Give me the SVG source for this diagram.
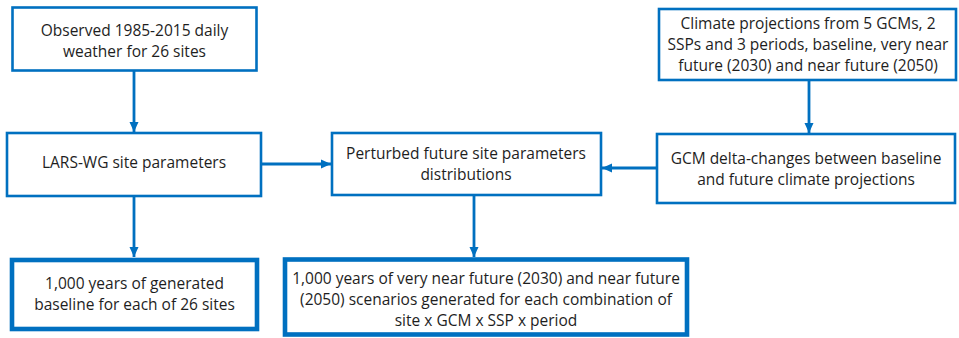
<svg xmlns="http://www.w3.org/2000/svg" width="959" height="338" viewBox="0 0 959 338">
  <defs>
    <marker id="arrow" markerUnits="userSpaceOnUse" markerWidth="10" markerHeight="10" viewBox="0 0 10 10" refX="10" refY="5" orient="auto">
      <path d="M0,0.5 L10,5 L0,9.5 Z" fill="#0070C0"/>
    </marker>
    <style>
      .box { fill: #ffffff; stroke: #0070C0; stroke-width: 2.6; }
      .box.thick { stroke-width: 4.6; }
      .lbl { font-family: "Open Sans", "Liberation Sans", Arial, sans-serif; font-size: 15.5px; fill: #1e1e1e; text-anchor: middle; }
      .link { fill: none; stroke: #0070C0; stroke-width: 2.8; marker-end: url(#arrow); }
    </style>
  </defs>
  <rect width="959" height="338" fill="#ffffff"/>

  <!-- connectors -->
  <g id="connectors">
    <line class="link" x1="134" y1="71" x2="134" y2="132"/>
    <line class="link" x1="809" y1="80" x2="809" y2="133"/>
    <line class="link" x1="261" y1="164" x2="331" y2="164"/>
    <line class="link" x1="657" y1="168" x2="602" y2="168"/>
    <line class="link" x1="134" y1="196" x2="134" y2="257"/>
    <line class="link" x1="474" y1="195" x2="474" y2="257"/>
  </g>

  <g id="observed">
    <rect class="box" x="12.5" y="7.5" width="244" height="63"/>
    <text class="lbl" x="134.5" y="36">Observed 1985-2015 daily</text>
    <text class="lbl" x="134.5" y="57">weather for 26 sites</text>
  </g>

  <g id="climate-projections">
    <rect class="box" x="659" y="9" width="297" height="71"/>
    <text class="lbl" x="808" y="29">Climate projections from 5 GCMs, 2</text>
    <text class="lbl" x="808" y="50">SSPs and 3 periods, baseline, very near</text>
    <text class="lbl" x="808" y="71">future (2030) and near future (2050)</text>
  </g>

  <g id="lars-wg">
    <rect class="box" x="7" y="133" width="254" height="63"/>
    <text class="lbl" x="134" y="168">LARS-WG site parameters</text>
  </g>

  <g id="perturbed">
    <rect class="box" x="332" y="133" width="269" height="62"/>
    <text class="lbl" x="466" y="159">Perturbed future site parameters</text>
    <text class="lbl" x="466" y="180">distributions</text>
  </g>

  <g id="gcm-delta">
    <rect class="box" x="657" y="134" width="298" height="69"/>
    <text class="lbl" x="806" y="164">GCM delta-changes between baseline</text>
    <text class="lbl" x="806" y="185">and future climate projections</text>
  </g>

  <g id="baseline-output">
    <rect class="box thick" x="12" y="260" width="245" height="69"/>
    <text class="lbl" x="134.5" y="289">1,000 years of generated</text>
    <text class="lbl" x="134.5" y="310">baseline for each of 26 sites</text>
  </g>

  <g id="future-output">
    <rect class="box thick" x="285" y="259.5" width="402" height="75"/>
    <text class="lbl" x="486" y="284">1,000 years of very near future (2030) and near future</text>
    <text class="lbl" x="486" y="305">(2050) scenarios generated for each combination of</text>
    <text class="lbl" x="486" y="326">site x GCM x SSP x period</text>
  </g>
</svg>
